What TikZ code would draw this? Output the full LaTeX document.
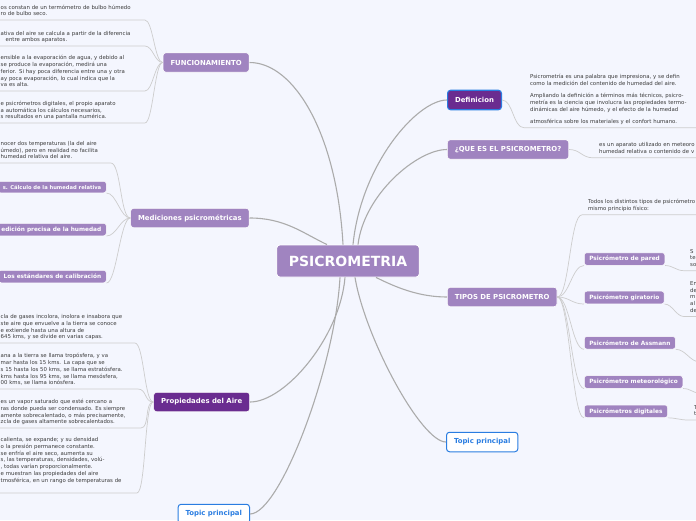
\documentclass[tikz,border=0pt]{standalone}
\usepackage{fontspec}
\setmainfont{DejaVu Sans}
\usetikzlibrary{positioning}

\definecolor{bgcol}{HTML}{F4F6FE}
\definecolor{lightpurple}{HTML}{A084C0}
\definecolor{darkpurple}{HTML}{6A2C90}
\definecolor{topicblue}{HTML}{2A7DE1}
\definecolor{leafgray}{HTML}{3C3C3C}
\definecolor{linkgray}{HTML}{ABABAB}
\definecolor{twiggray}{HTML}{CDCDCD}

\begin{document}
\begin{tikzpicture}[
    x=1pt, y=-1pt,
    rootbox/.style={
        fill=lightpurple,
        draw=white,
        line width=0.8pt,
        rounded corners=3pt,
        text=white,
        font=\bfseries\fontsize{14}{16}\selectfont,
        inner xsep=12pt,
        minimum height=32pt
    },
    topbox/.style={
        fill=lightpurple,
        draw=white,
        line width=0.6pt,
        rounded corners=3pt,
        text=white,
        font=\bfseries\fontsize{6.9}{8}\selectfont,
        inner xsep=7.5pt,
        minimum height=19.5pt
    },
    topicbox/.style={
        topbox,
        fill=white,
        draw=topicblue,
        line width=1pt,
        text=topicblue
    },
    subbox/.style={
        fill=lightpurple,
        draw=white,
        line width=0.5pt,
        rounded corners=2.5pt,
        text=white,
        font=\bfseries\fontsize{5.8}{7}\selectfont,
        inner xsep=5pt,
        minimum height=12.5pt
    },
    leaf/.style={
        font=\fontsize{5.4}{6.7}\selectfont,
        text=leafgray,
        align=left,
        inner xsep=6pt,
        inner ysep=2pt,
        execute at end node=\strut,
        anchor=south west
    },
    link/.style={draw=linkgray, line width=1.1pt},
    twig/.style={draw=twiggray, line width=0.7pt}
]
    \useasboundingbox (0,0) rectangle (696,520);
    \clip (0,0) rectangle (696,520);
    \fill[bgcol] (0,0) rectangle (696,520);

    % main topics
    \node[rootbox] (root) at (348,261) {PSICROMETRIA};
    \node[topbox, anchor=east] (func) at (249.5,62.5) {FUNCIONAMIENTO};
    \node[topbox, anchor=east] (med) at (249.5,218) {Mediciones psicrométricas};
    \node[topbox, fill=darkpurple, anchor=east] (prop) at (250,402) {Propiedades del Aire};
    \node[topicbox, anchor=east] (topicL) at (250,514) {Topic principal};
    \node[topbox, fill=darkpurple, draw=topicblue, line width=1.1pt, anchor=west] (def) at (447,100) {Definicion};
    \node[topbox, anchor=west] (que) at (447,149.5) {¿QUE ES EL PSICROMETRO?};
    \node[topbox, anchor=west] (tipos) at (447,297) {TIPOS DE PSICROMETRO};
    \node[topicbox, anchor=west] (topicR) at (446,442) {Topic principal};

    % subtopics
    \node[subbox, anchor=west] (pared) at (584,259) {Psicrómetro de pared};
    \node[subbox, anchor=west] (gir) at (584,297.5) {Psicrómetro giratorio};
    \node[subbox, anchor=west] (assm) at (584,342.8) {Psicrómetro de Assmann};
    \node[subbox, anchor=west] (meteo) at (584,382) {Psicrómetro meteorológico};
    \node[subbox, anchor=west] (digi) at (584,411.3) {Psicrómetros digitales};
    \node[subbox, font=\bfseries\fontsize{5.2}{6.5}\selectfont, minimum height=11.5pt, anchor=east] (medA) at (106.5,187) {s. Cálculo de la humedad relativa};
    \node[subbox, anchor=east] (medB) at (106.5,229.5) {edición precisa de la humedad};
    \node[subbox, anchor=east] (medC) at (106.5,276.5) {Los estándares de calibración};

    % texts, left
    \node[leaf, text width=138pt] (f1) at (-5.5,20) {os constan de un termómetro de bulbo húmedo\\ro de bulbo seco.};
    \node[leaf, text width=138pt] (f2) at (-5.5,46) {ativa del aire se calcula a partir de la diferencia\\\hspace*{5pt}entre ambos aparatos.};
    \node[leaf, text width=138pt] (f3) at (-5.5,91) {ensible a la evaporación de agua, y debido al\\se produce la evaporación, medirá una\\ferior. Si hay poca diferencia entre una y otra\\ay poca evaporación, lo cual indica que la\\va es alta.};
    \node[leaf, text width=138pt] (f4) at (-5.5,123) {e psicrómetros digitales, el propio aparato\\a automática los cálculos necesarios,\\s resultados en una pantalla numérica.};
    \node[leaf, text width=104pt] (m1) at (-5.5,163) {nocer dos temperaturas (la del aire\\úmedo), pero en realidad no facilita\\humedad relativa del aire.};
    \node[leaf, text width=128pt] (p1) at (-5.5,343) {cla de gases incolora, inolora e insabora que\\ste aire que envuelve a la tierra se conoce\\e extiende hasta una altura de\\645 kms, y se divide en varias capas.};
    \node[leaf, text width=131pt] (p2) at (-5.5,389) {ana a la tierra se llama tropósfera, y va\\mar hasta los 15 kms. La capa que se\\s 15 hasta los 50 kms, se llama estratósfera.\\kms hasta los 95 kms, se llama mesósfera,\\00 kms, se llama ionósfera.};
    \node[leaf, text width=134pt] (p3) at (-5.5,428) {es un vapor saturado que esté cercano a\\ras donde pueda ser condensado. Es siempre\\amente sobrecalentado, o más precisamente,\\zcla de gases altamente sobrecalentados.};
    \node[leaf, text width=130pt] (p4) at (-5.5,493) {calienta, se expande; y su densidad\\o la presión permanece constante.\\se enfría el aire seco, aumenta su\\s, las temperaturas, densidades, volú-\\, todas varían proporcionalmente.\\e muestran las propiedades del aire\\tmosférica, en un rango de temperaturas de\\\mbox{}};

    % texts, right
    \node[leaf, text width=200pt] (defL) at (524,127.7) {Psicrometría es una palabra que impresiona, y se defin\\como la medición del contenido de humedad del aire.\\[5.5pt]Ampliando la definición a términos más técnicos, psicro-\\metría es la ciencia que involucra las propiedades termo-\\dinámicas del aire húmedo, y el efecto de la humedad\\[5.5pt]atmosférica sobre los materiales y el confort humano.};
    \node[leaf, text width=120pt] (queL) at (593,157.8) {es un aparato utilizado en meteoro\\humedad relativa o contenido de v};
    \node[leaf, text width=140pt] (tipL) at (582,214.8) {Todos los distintos tipos de psicrómetro\\mismo principio físico:};
    \node[leaf, text width=40pt] (paredL) at (684,270.7) {S\\te\\so};
    \node[leaf, text width=40pt] (girL) at (684,316.5) {En\\de\\m\\al\\de};
    \node[leaf, text width=40pt] (digiL) at (688,420) {T\\t};
    \coordinate (assmL) at (700,362);
    \coordinate (meteoL) at (700,393);

    % links from the centre
    \draw[link] (func.east) .. controls +(45,0) and +(-6,-110) .. ([xshift=-5pt]root.north);
    \draw[link] (med.east) .. controls +(35,0) and +(-25,-12) .. ([xshift=-21pt]root.north);
    \draw[link] (def.west) .. controls +(-30,0) and +(8,-80) .. ([xshift=5pt]root.north);
    \draw[link] (que.west) .. controls +(-30,0) and +(6,-50) .. ([xshift=10pt]root.north);
    \draw[link] (tipos.west) .. controls +(-28,0) and +(20,10) .. ([xshift=28pt]root.south);
    \draw[link] (prop.east) .. controls +(35,0) and +(-5,60) .. ([xshift=-3pt]root.south);
    \draw[link] (topicL.east) .. controls +(30,0) and +(-5,90) .. ([xshift=-8pt]root.south);
    \draw[link] (topicR.west) .. controls +(-25,0) and +(10,60) .. ([xshift=7pt]root.south);

    % links to the texts, left
    \foreach \n in {f1,f2,f3,f4}
        \draw[twig] (\n.south west) -- (\n.south east) .. controls +(8,0) and +(-8,0) .. (func.west);
    \draw[twig] (m1.south west) -- (m1.south east) .. controls +(10,0) and +(-10,0) .. (med.west);
    \foreach \n in {medA,medB,medC}
        \draw[twig] (\n.south east) .. controls +(10,0) and +(-10,0) .. (med.west);
    \foreach \n in {p1,p2,p3,p4}
        \draw[twig] (\n.south west) -- (\n.south east) .. controls +(9,0) and +(-9,0) .. (prop.west);

    % links to the texts, right
    \draw[twig] (def.east) .. controls +(11,0) and +(-11,0) .. (defL.south west) -- (defL.south east);
    \draw[twig] (que.east) .. controls +(11,0) and +(-11,0) .. (queL.south west) -- (queL.south east);
    \draw[twig] (tipos.east) .. controls +(12,0) and +(-12,0) .. (tipL.south west) -- (tipL.south east);
    \foreach \n in {pared,gir,assm,meteo,digi}
        \draw[twig] (tipos.east) .. controls +(12,0) and +(-12,0) .. (\n.south west);
    \foreach \n in {pared,gir,digi}
        \draw[twig] (\n.south east) .. controls +(8,0) and +(-8,0) .. (\n L.south west) -- (\n L.south east);
    \draw[twig] (assm.south east) .. controls +(10,0) and +(-10,0) .. (assmL);
    \draw[twig] (meteo.south east) .. controls +(8,0) and +(-8,0) .. (meteoL);
\end{tikzpicture}
\end{document}
